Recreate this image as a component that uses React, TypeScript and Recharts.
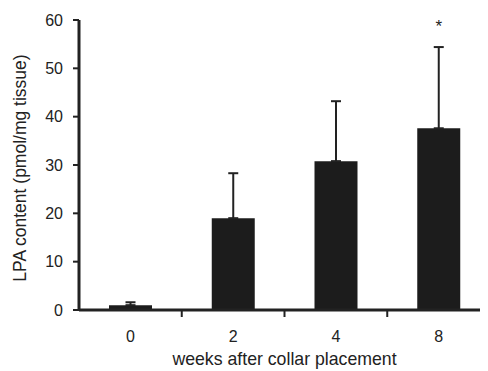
import React from 'react';
import { BarChart, Bar, XAxis, YAxis, ErrorBar, LabelList, Label } from 'recharts';

const weeks = ['0', '2', '4', '8'];
const means = [1.0, 19.0, 30.8, 37.6];
const sems = [0.6, 9.3, 12.4, 16.8];
const sigMarks = ['', '', '', '*'];
const yTicks = [0, 10, 20, 30, 40, 50, 60];

const data = weeks.map((w, i) => ({ week: w, mean: means[i], err: [0, sems[i]], sig: sigMarks[i] }));

const W = 485;
const H = 363;
const MARGIN = { top: 12, right: 3, left: 0, bottom: 0 };
const Y_AXIS_W = 71;
const X_AXIS_H = 61;
const PLOT_W = W - MARGIN.left - MARGIN.right - Y_AXIS_W;
const HALF_BAND = PLOT_W / weeks.length / 2;
const FONT = '"Liberation Sans", Arial, sans-serif';
const INK = '#222';

const XTick = (props: any) => {
  const { x, y, payload } = props;
  return (
    <g>
      <text x={x} y={y + 32} textAnchor="middle" fontSize={16} fontFamily={FONT} fill={INK}>
        {payload.value}
      </text>
      <line x1={x + HALF_BAND} y1={y} x2={x + HALF_BAND} y2={y + 7} stroke={INK} strokeWidth={2} />
    </g>
  );
};

const StarLabel = (props: any) => {
  const { x, y, width, height, value, index } = props;
  if (!value) return null;
  const m = means[index];
  const capY = y - (sems[index] * height) / m;
  return (
    <text x={x + width / 2} y={capY - 15} textAnchor="middle" fontSize={17} fontFamily={FONT} fill={INK}>
      {value}
    </text>
  );
};

export default function App() {
  return (
    <div style={{ width: 480, height: H, overflow: 'hidden' }}>
      <BarChart width={W} height={H} data={data} margin={MARGIN}>
        <XAxis
          dataKey="week"
          height={X_AXIS_H}
          tickSize={0}
          tickMargin={0}
          tickLine={false}
          axisLine={{ stroke: INK, strokeWidth: 3 }}
          tick={<XTick />}
          interval={0}
        >
          <Label
            content={(p: any) => {
              const vb = p.viewBox;
              return (
                <text
                  x={vb.x + vb.width / 2}
                  y={357}
                  textAnchor="middle"
                  fontSize={17.7}
                  fontFamily={FONT}
                  fill={INK}
                >
                  weeks after collar placement
                </text>
              );
            }}
          />
        </XAxis>
        <YAxis
          width={Y_AXIS_W}
          domain={[0, 60]}
          ticks={yTicks}
          interval={0}
          tickSize={6}
          tickMargin={10}
          tickLine={{ stroke: INK, strokeWidth: 2 }}
          axisLine={{ stroke: INK, strokeWidth: 3 }}
          tick={{ fontSize: 16, fontFamily: FONT, fill: INK }}
        >
          <Label
            content={() => (
              <text
                x={12}
                y={160}
                transform="rotate(-90 12 160)"
                textAnchor="middle"
                dominantBaseline="central"
                fontSize={17.5}
                fontFamily={FONT}
                fill={INK}
              >
                LPA content (pmol/mg tissue)
              </text>
            )}
          />
        </YAxis>
        <Bar dataKey="mean" fill="#1c1c1c" barSize={43} isAnimationActive={false}>
          <ErrorBar dataKey="err" width={5} stroke={INK} strokeWidth={2} direction="y" />
          <LabelList dataKey="sig" content={<StarLabel />} />
        </Bar>
      </BarChart>
    </div>
  );
}
